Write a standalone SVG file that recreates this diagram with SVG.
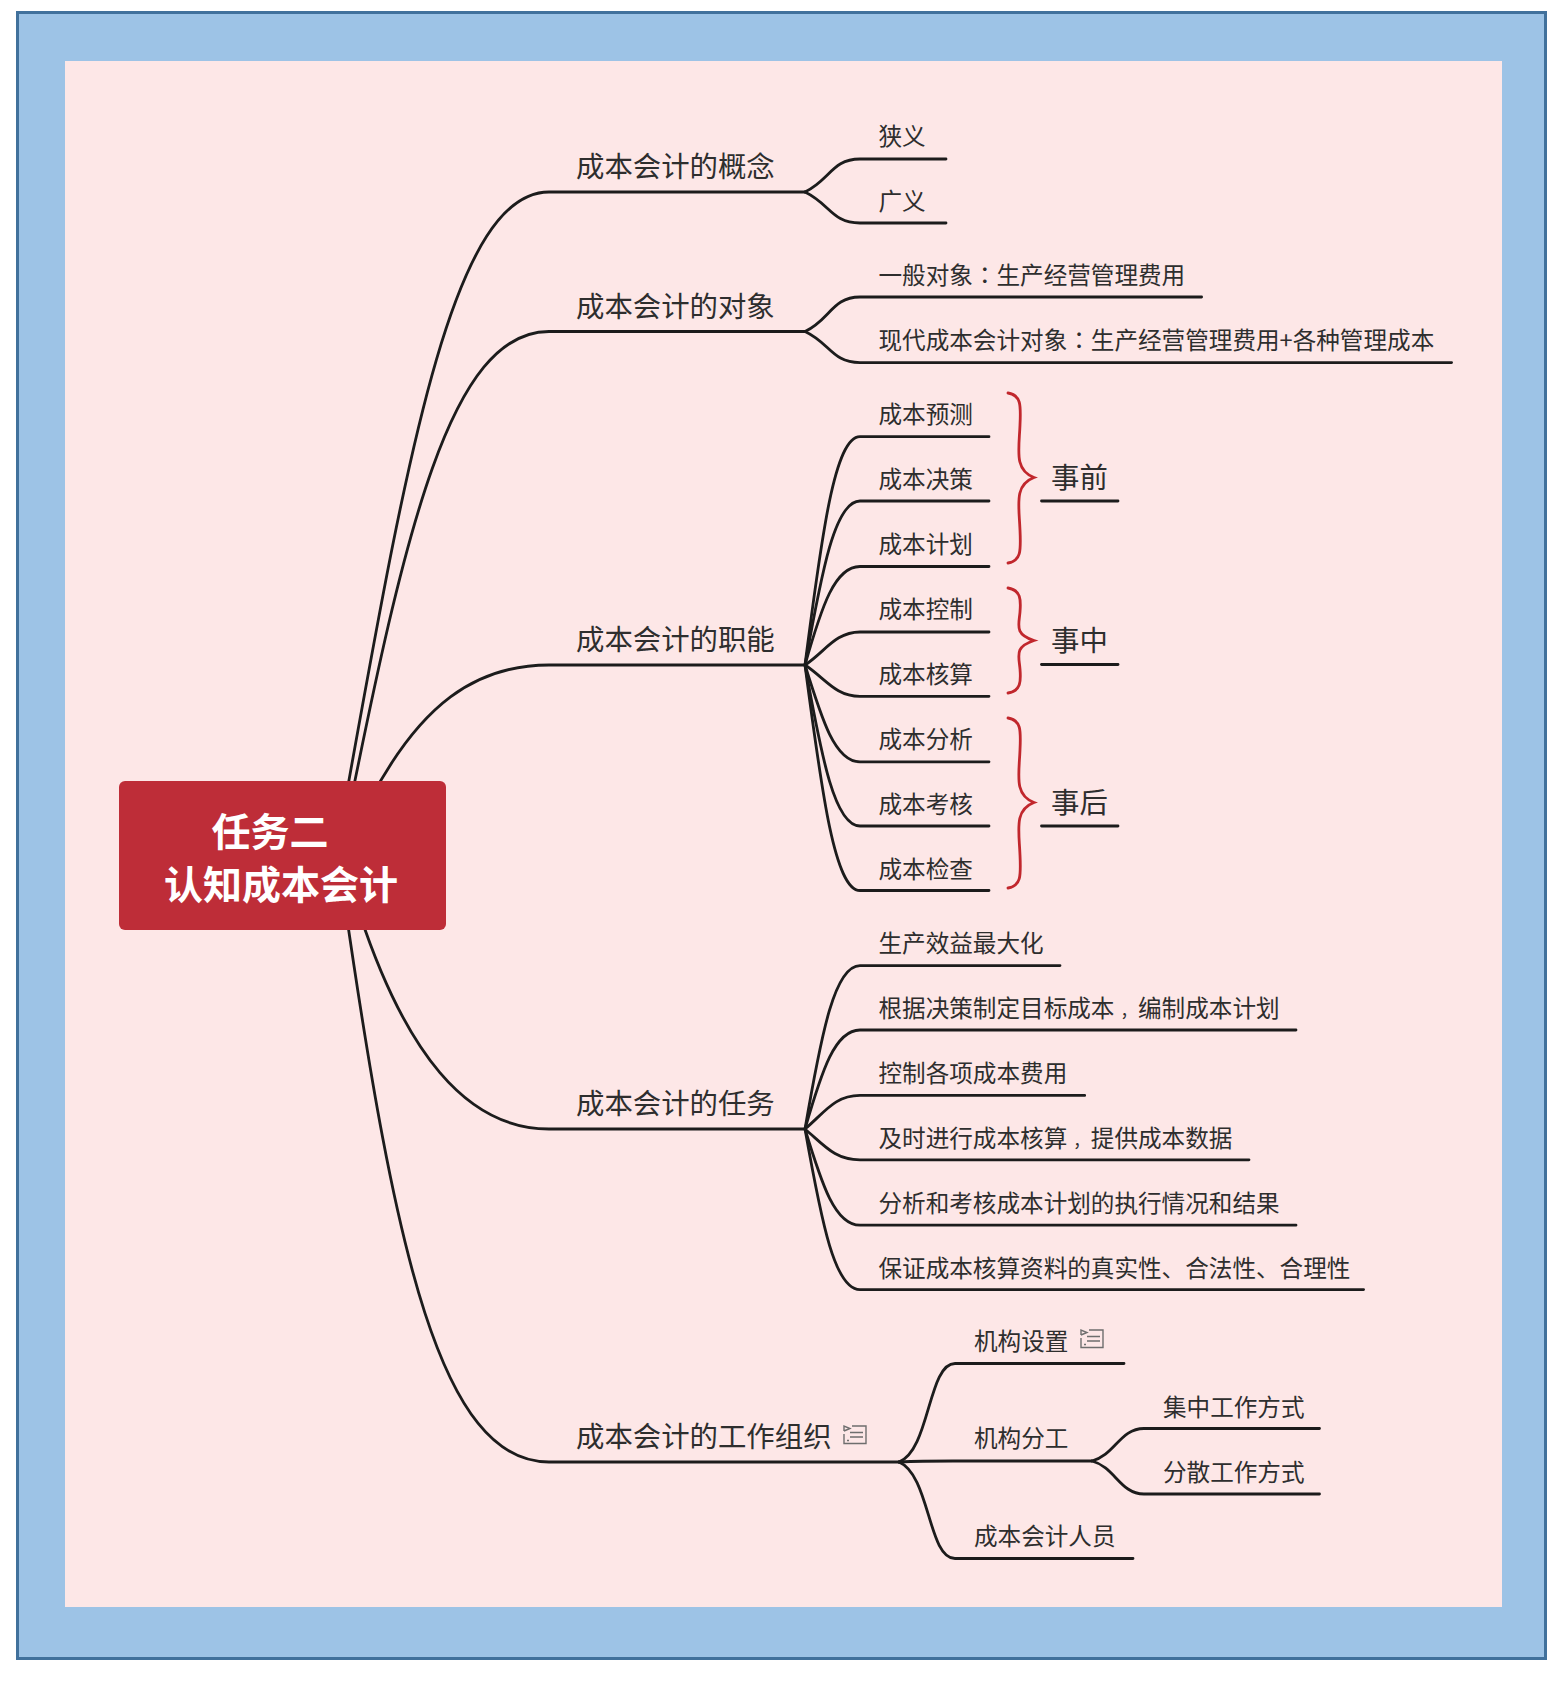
<svg xmlns="http://www.w3.org/2000/svg" width="1560" height="1682" viewBox="0 0 1560 1682">
<style>
text{font-family:"Noto Sans CJK SC","Liberation Sans",sans-serif;fill:#2e2e2e}
.l1{font-size:28.400px}.l2{font-size:23.600px}.l3{font-size:28.400px}
.root{font-size:39px;font-weight:700;fill:#fff;text-anchor:middle}
.c{fill:none;stroke:#1c1c1c;stroke-width:2.800;stroke-linecap:round}
.b{fill:none;stroke:#c1272d;stroke-width:2.800;stroke-linecap:round}
.n{fill:none;stroke:#6e6e6e;stroke-width:1.400}
.colon{font-family:"Noto Sans CJK TC","Noto Sans CJK SC",sans-serif}
.comma{font-size:16.600px}
</style>
<defs><g id="note" class="n"><path d="M2 6V1L8 3.500 2 6M2 9V18.500H24V1H10M8 7.500H21M8 12H21M5 15.500H7"/></g></defs>
<rect x="17.500" y="12.500" width="1528" height="1646" fill="#9dc3e6" stroke="#41719c" stroke-width="3"/>
<rect x="65" y="61" width="1437" height="1546" fill="#fde7e7"/>
<g id="connectors">
<path class="c" d="M340 830C405 470 450 192 549 192H805"/>
<path class="c" d="M345 830C405 530 450 331.500 549 331.500H805"/>
<path class="c" d="M370 800C420 705 475 665 549 665H805"/>
<path class="c" d="M360 915C405 1050 465 1129 549 1129H805"/>
<path class="c" d="M345 905C395 1250 440 1462 549 1462H899"/>
<path class="c" d="M805 192C830 180 832 159 860 159H946"/>
<path class="c" d="M805 192C830 204 832 223 860 223H946"/>
<path class="c" d="M805 331.500C830 320 832 297 860 297H1201.600"/>
<path class="c" d="M805 331.500C830 343 832 362.600 860 362.600H1451.600"/>
<path class="c" d="M805 665C822 532 835 436.700 860 436.700H989"/>
<path class="c" d="M805 665C822 570 835 501 860 501H989"/>
<path class="c" d="M805 665C822 605 835 566.500 860 566.500H989"/>
<path class="c" d="M805 665C825 652 835 632 860 632H989"/>
<path class="c" d="M805 665C825 678 835 696.300 860 696.300H989"/>
<path class="c" d="M805 665C822 720 835 761.800 860 761.800H989"/>
<path class="c" d="M805 665C822 760 835 826 860 826H989"/>
<path class="c" d="M805 665C822 795 835 890.500 860 890.500H989"/>
<path class="c" d="M805 1129C822 1030 835 965.600 860 965.600H1060"/>
<path class="c" d="M805 1129C822 1070 835 1030 860 1030H1296"/>
<path class="c" d="M805 1129C825 1112 835 1095.400 860 1095.400H1084.700"/>
<path class="c" d="M805 1129C825 1146 835 1159.800 860 1159.800H1249"/>
<path class="c" d="M805 1129C822 1185 835 1225.200 860 1225.200H1296"/>
<path class="c" d="M805 1129C822 1225 835 1289.600 860 1289.600H1363.600"/>
<path class="c" d="M899 1462C930 1450 928 1363.500 955 1363.500H1124"/>
<path class="c" d="M899 1462C920 1461 935 1461 953 1461H1092"/>
<path class="c" d="M899 1462C930 1475 928 1558.500 955 1558.500H1133"/>
<path class="c" d="M1092 1461C1115 1455 1120 1428.500 1144 1428.500H1319.500"/>
<path class="c" d="M1092 1461C1115 1467 1120 1494 1144 1494H1319.500"/>
<path class="c" d="M1041.500 501H1118"/>
<path class="c" d="M1041.500 664.500H1118"/>
<path class="c" d="M1041.500 826H1118"/>
<path class="b" d="M1008 393C1021 395 1021 405 1020 425C1019 450 1014 470 1034 477.500C1014 485 1019 505 1020 530C1021 551 1021 561 1008 563"/>
<path class="b" d="M1008 588C1021 590 1021 600 1020 612C1019 625 1014 634 1034 640.500C1014 647 1019 656 1020 669C1021 681 1021 691 1008 693"/>
<path class="b" d="M1008 718C1021 720 1021 730 1020 750C1019 775 1014 795 1034 802.500C1014 810 1019 830 1020 855C1021 876 1021 886 1008 888"/>
</g>
<g id="root"><rect x="119" y="781" width="327" height="149" rx="6" fill="#be2d38"/><text class="root" x="270" y="846">任务二</text><text class="root" x="281" y="899">认知成本会计</text></g>
<g id="n1"><text class="l1" x="576" y="177">成本会计的概念</text></g>
<g id="n2"><text class="l1" x="576" y="317">成本会计的对象</text></g>
<g id="n3"><text class="l1" x="576" y="650">成本会计的职能</text></g>
<g id="n4"><text class="l1" x="576" y="1114">成本会计的任务</text></g>
<g id="n5"><text class="l1" x="576" y="1447">成本会计的工作组织</text><use href="#note" x="842" y="1425"/></g>
<g id="n1-1"><text class="l2" x="878.500" y="145">狭义</text></g>
<g id="n1-2"><text class="l2" x="878.500" y="210">广义</text></g>
<g id="n2-1"><text class="l2" x="878.500" y="284">一般对象<tspan class="colon">：</tspan>生产经营管理费用</text></g>
<g id="n2-2"><text class="l2" x="878.500" y="349">现代成本会计对象<tspan class="colon">：</tspan>生产经营管理费用+各种管理成本</text></g>
<g id="n3-1"><text class="l2" x="878.500" y="423">成本预测</text></g>
<g id="n3-2"><text class="l2" x="878.500" y="488">成本决策</text></g>
<g id="n3-3"><text class="l2" x="878.500" y="553">成本计划</text></g>
<g id="n3-4"><text class="l2" x="878.500" y="618">成本控制</text></g>
<g id="n3-5"><text class="l2" x="878.500" y="683">成本核算</text></g>
<g id="n3-6"><text class="l2" x="878.500" y="748">成本分析</text></g>
<g id="n3-7"><text class="l2" x="878.500" y="813">成本考核</text></g>
<g id="n3-8"><text class="l2" x="878.500" y="878">成本检查</text></g>
<g id="s1"><text class="l3" x="1051" y="488">事前</text></g>
<g id="s2"><text class="l3" x="1051" y="651">事中</text></g>
<g id="s3"><text class="l3" x="1051" y="812.500">事后</text></g>
<g id="n4-1"><text class="l2" x="878.500" y="952">生产效益最大化</text></g>
<g id="n4-2"><text class="l2" x="878.500" y="1017">根据决策制定目标成本<tspan class="comma" dx="6">，</tspan><tspan dx="1">编制成本计划</tspan></text></g>
<g id="n4-3"><text class="l2" x="878.500" y="1082">控制各项成本费用</text></g>
<g id="n4-4"><text class="l2" x="878.500" y="1147">及时进行成本核算<tspan class="comma" dx="6">，</tspan><tspan dx="1">提供成本数据</tspan></text></g>
<g id="n4-5"><text class="l2" x="878.500" y="1211.500">分析和考核成本计划的执行情况和结果</text></g>
<g id="n4-6"><text class="l2" x="878.500" y="1277">保证成本核算资料的真实性、合法性、合理性</text></g>
<g id="n5-1"><text class="l2" x="974" y="1350">机构设置</text><use href="#note" x="1079" y="1329"/></g>
<g id="n5-2"><text class="l2" x="974" y="1447">机构分工</text></g>
<g id="n5-3"><text class="l2" x="974" y="1545">成本会计人员</text></g>
<g id="n5-2-1"><text class="l2" x="1163" y="1416">集中工作方式</text></g>
<g id="n5-2-2"><text class="l2" x="1163" y="1481">分散工作方式</text></g>
</svg>
